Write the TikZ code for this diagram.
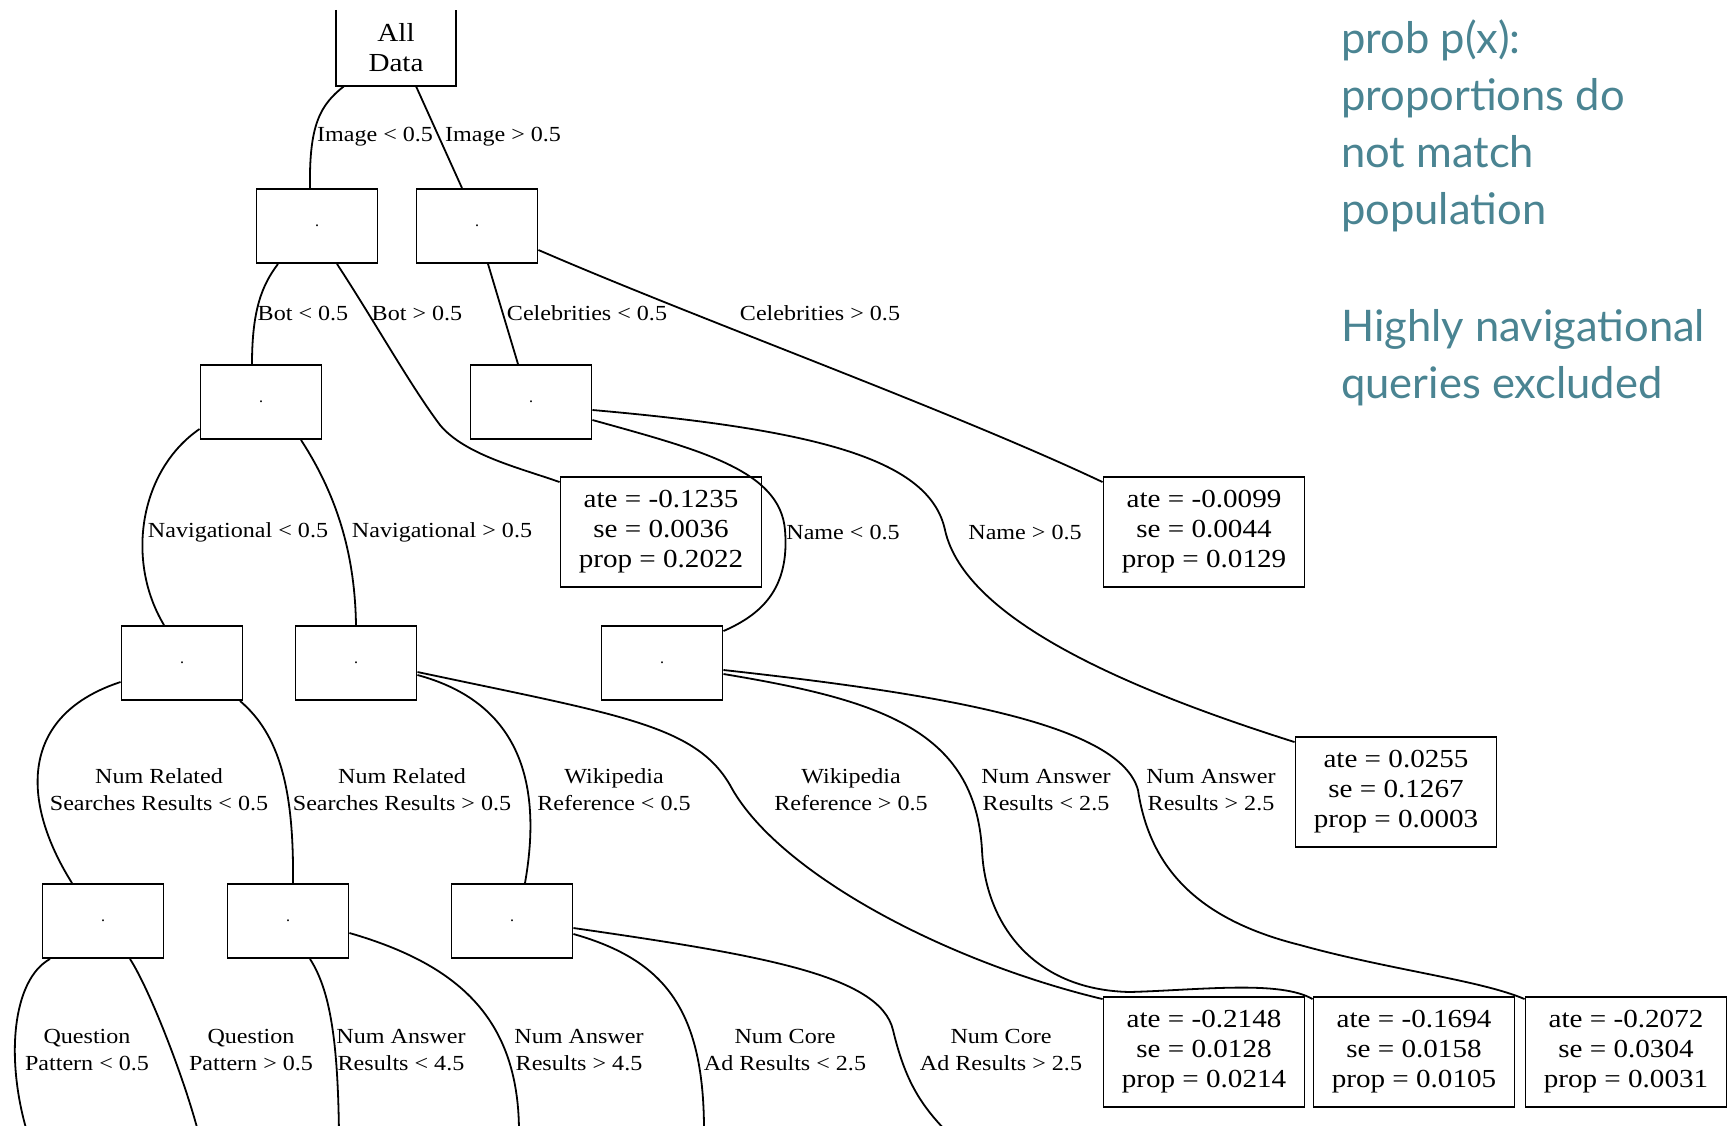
\documentclass[tikz,border=0pt]{standalone}
\usepackage{fontspec}
\setmainfont{Liberation Serif}
\newfontfamily\gvfont[FakeStretch=1.12]{Liberation Serif}
\newfontfamily\sidefont{Lato}
\definecolor{sideteal}{RGB}{74,132,146}
\begin{document}
\begin{tikzpicture}[x=1pt,y=-1pt,
  splitbox/.style={draw,line width=1.9pt,minimum width=121pt,minimum height=74pt,inner sep=0pt,font=\fontsize{16}{16}\selectfont},
  leafbox/.style={draw,line width=1.9pt,minimum width=201pt,minimum height=110pt,inner sep=0pt,align=center,font=\gvfont\fontsize{26}{30}\selectfont},
  elabel/.style={inner sep=0pt,align=center,font=\gvfont\fontsize{21.5}{26.7}\selectfont},
  conn/.style={line width=1.8pt},
  sidetxt/.style={anchor=base west,inner sep=0pt,text=sideteal,font=\sidefont\fontsize{43.5}{52}\selectfont}]

\fill[white] (0,0) rectangle (1733,1125);
\useasboundingbox (0,0) rectangle (1733,1125);

% root
\node[minimum width=120pt,minimum height=76pt,inner sep=0pt,align=center,font=\gvfont\fontsize{26}{30}\selectfont] (AD) at (396,48) {All\\Data};
\draw[line width=1.9pt] (AD.north west) -- (AD.south west) -- (AD.south east) -- (AD.north east);

% split nodes
\node[splitbox] (s1) at (317,226) {.};
\node[splitbox] (s2) at (477,226) {.};
\node[splitbox] (s3) at (261,402) {.};
\node[splitbox] (s4) at (531,402) {.};
\node[splitbox] (s5) at (182,663) {.};
\node[splitbox] (s6) at (356,663) {.};
\node[splitbox] (s7) at (662,663) {.};
\node[splitbox] (s8) at (103,921) {.};
\node[splitbox] (s9) at (288,921) {.};
\node[splitbox] (s10) at (512,921) {.};

% leaves
\node[leafbox] (leaf1) at (661,532) {ate = -0.1235\\se = 0.0036\\prop = 0.2022};
\node[leafbox] (leaf2) at (1204,532) {ate = -0.0099\\se = 0.0044\\prop = 0.0129};
\node[leafbox] (leaf3) at (1396,792) {ate = 0.0255\\se = 0.1267\\prop = 0.0003};
\node[leafbox] (leaf4) at (1204,1052) {ate = -0.2148\\se = 0.0128\\prop = 0.0214};
\node[leafbox] (leaf5) at (1414,1052) {ate = -0.1694\\se = 0.0158\\prop = 0.0105};
\node[leafbox] (leaf6) at (1626,1052) {ate = -0.2072\\se = 0.0304\\prop = 0.0031};

% off-picture ends
\coordinate (o1) at (28,1135);
\coordinate (o2) at (199,1135);
\coordinate (o3) at (339,1135);
\coordinate (o4) at (519,1135);
\coordinate (o5) at (704,1135);
\coordinate (o6) at (950,1135);

% edges
\draw[conn] ([xshift=-52pt]AD.south) .. controls (320,105) and (309,125) .. ([xshift=-7pt]s1.north);
\draw[conn] ([xshift=20pt]AD.south) -- ([xshift=-15pt]s2.north);
\draw[conn] ([xshift=-39pt]s1.south) .. controls (262,285) and (252,310) .. ([xshift=-9pt]s3.north);
\draw[conn] ([xshift=20pt]s1.south) .. controls (375,322) and (410,385) .. (440,425) .. controls (465,455) and (520,468) .. ([yshift=-6pt]leaf1.north west);
\draw[conn] ([xshift=11pt]s2.south) -- ([xshift=-13pt]s4.north);
\draw[conn] ([yshift=-24pt]s2.east) .. controls (700,320) and (950,410) .. ([yshift=-6pt]leaf2.north west);
\draw[conn] ([yshift=-27pt]s3.west) .. controls (140,470) and (125,560) .. ([xshift=-18pt]s5.north);
\draw[conn] ([xshift=40pt]s3.south) .. controls (340,500) and (355,560) .. (s6.north);
\draw[conn] ([yshift=-18pt]s4.east) .. controls (700,450) and (780,470) .. (785,530) .. controls (790,590) and (760,615) .. ([yshift=-6pt]s7.north east);
\draw[conn] ([yshift=-8pt]s4.east) .. controls (820,430) and (930,460) .. (945,530) .. controls (965,620) and (1130,690) .. ([yshift=-6pt]leaf3.north west);
\draw[conn] ([yshift=-19pt]s5.west) .. controls (20,715) and (20,800) .. ([xshift=-31pt]s8.north);
\draw[conn] ([xshift=58pt]s5.south) .. controls (280,735) and (294,790) .. ([xshift=5pt]s9.north);
\draw[conn] ([yshift=-12pt]s6.east) .. controls (510,700) and (545,770) .. ([xshift=13pt]s10.north);
\draw[conn] ([yshift=-9pt]s6.east) .. controls (620,715) and (695,725) .. (730,785) .. controls (775,870) and (940,960) .. ([yshift=-3pt]leaf4.north west);
\draw[conn] ([yshift=-11pt]s7.east) .. controls (880,700) and (975,730) .. (982,850) .. controls (985,920) and (1030,990) .. (1130,992) .. controls (1200,990) and (1280,980) .. ([yshift=-3pt]leaf5.north west);
\draw[conn] ([yshift=-7pt]s7.east) .. controls (950,695) and (1120,725) .. (1138,790) .. controls (1150,870) and (1200,920) .. (1300,945) .. controls (1390,970) and (1480,980) .. ([yshift=-3pt]leaf6.north west);
\draw[conn] ([xshift=-53pt]s8.south) .. controls (12,980) and (5,1060) .. (o1);
\draw[conn] ([xshift=27pt]s8.south) .. controls (150,990) and (185,1080) .. (o2);
\draw[conn] ([xshift=22pt]s9.south) .. controls (330,990) and (338,1040) .. (o3);
\draw[conn] ([yshift=-12pt]s9.east) .. controls (460,965) and (520,1020) .. (o4);
\draw[conn] ([yshift=-13pt]s10.east) .. controls (665,960) and (705,1010) .. (o5);
\draw[conn] ([yshift=-7pt]s10.east) .. controls (760,955) and (880,975) .. (893,1030) .. controls (905,1080) and (920,1105) .. (o6);

% edge labels
\node[elabel] (l1) at (375,137) {Image < 0.5};
\node[elabel] (l2) at (503,137) {Image > 0.5};
\node[elabel] (l3) at (303,313) {Bot < 0.5};
\node[elabel] (l4) at (417,313) {Bot > 0.5};
\node[elabel] (l5) at (587,313) {Celebrities < 0.5};
\node[elabel] (l6) at (820,313) {Celebrities > 0.5};
\node[elabel] (l7) at (238,532) {Navigational < 0.5};
\node[elabel] (l8) at (442,532) {Navigational > 0.5};
\node[elabel] (l9) at (843,532) {Name < 0.5};
\node[elabel] (l10) at (1025,532) {Name > 0.5};
\node[elabel] (l11) at (159,790) {Num Related\\Searches Results < 0.5};
\node[elabel] (l12) at (402,790) {Num Related\\Searches Results > 0.5};
\node[elabel] (l13) at (614,790) {Wikipedia\\Reference < 0.5};
\node[elabel] (l14) at (851,790) {Wikipedia\\Reference > 0.5};
\node[elabel] (l15) at (1046,790) {Num Answer\\Results < 2.5};
\node[elabel] (l16) at (1211,790) {Num Answer\\Results > 2.5};
\node[elabel] (l17) at (87,1050) {Question\\Pattern < 0.5};
\node[elabel] (l18) at (251,1050) {Question\\Pattern > 0.5};
\node[elabel] (l19) at (401,1050) {Num Answer\\Results < 4.5};
\node[elabel] (l20) at (579,1050) {Num Answer\\Results > 4.5};
\node[elabel] (l21) at (785,1050) {Num Core\\Ad Results < 2.5};
\node[elabel] (l22) at (1001,1050) {Num Core\\Ad Results > 2.5};

% side notes
\node[sidetxt] (t1) at (1341,53) {prob p(x):};
\node[sidetxt] (t2) at (1341,110) {proportions do};
\node[sidetxt] (t3) at (1341,167) {not match};
\node[sidetxt] (t4) at (1341,224) {population};
\node[sidetxt] (t5) at (1341,341) {Highly navigational};
\node[sidetxt] (t6) at (1341,398) {queries excluded};
\end{tikzpicture}
\end{document}
